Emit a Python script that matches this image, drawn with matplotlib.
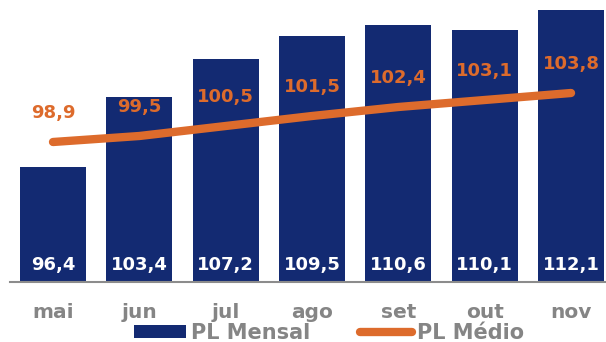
import matplotlib
matplotlib.use("Agg")
import matplotlib.pyplot as plt

plt.rcParams['font.family'] = ['DejaVu Sans']

# dados
meses = ['mai', 'jun', 'jul', 'ago', 'set', 'out', 'nov']
pl_mensal = [96.4, 103.4, 107.2, 109.5, 110.6, 110.1, 112.1]
pl_medio = [98.9, 99.5, 100.5, 101.5, 102.4, 103.1, 103.8]

AZUL = '#132a72'
LARANJA = '#dd6b2c'
CINZA = '#858585'

fig = plt.figure(figsize=(6.06, 3.42), dpi=100)
ax = fig.add_axes([10 / 606, 60 / 342, 596 / 606, 282 / 342])

x = list(range(len(meses)))
barras = ax.bar(x, pl_mensal, width=0.765, color=AZUL, label='PL Mensal', zorder=2)
linha, = ax.plot(x, pl_medio, color=LARANJA, linewidth=6, solid_capstyle='round',
                 label='PL Médio', zorder=3)

ax.set_xlim(-0.498, 6.405)
ax.set_ylim(84.9, 113.1)

def fmt(v):
    return f'{v:.1f}'.replace('.', ',')

# rótulos das barras (na base)
for xi, v in zip(x, pl_mensal):
    ax.annotate(fmt(v), xy=(xi, 84.9), xytext=(0, 12.5), textcoords='offset points',
                ha='center', va='center', color='white', fontsize=13,
                fontweight='bold', zorder=4)

# rótulos da linha
for xi, v in zip(x, pl_medio):
    ax.annotate(fmt(v), xy=(xi, v), xytext=(0, 21), textcoords='offset points',
                ha='center', va='center', color=LARANJA, fontsize=13,
                fontweight='bold', zorder=4)

for s in ['top', 'left', 'right']:
    ax.spines[s].set_visible(False)
ax.spines['bottom'].set_color('#8c8c8c')
ax.spines['bottom'].set_linewidth(1.5)
ax.set_yticks([])
ax.set_xticks(x)
ax.set_xticklabels(meses, color=CINZA, fontsize=14.5, fontweight='bold')
ax.tick_params(axis='x', length=0, pad=15)

leg = fig.legend([barras, linha], ['PL Mensal', 'PL Médio'],
                 loc='center', bbox_to_anchor=(0.543, 0.026), ncol=2,
                 frameon=False, handlelength=2.5, handleheight=0.6,
                 handletextpad=0.25, columnspacing=2.4, borderpad=0,
                 prop={'size': 15, 'weight': 'bold'})
for t in leg.get_texts():
    t.set_color(CINZA)

fig.savefig('out.png', dpi=100)
